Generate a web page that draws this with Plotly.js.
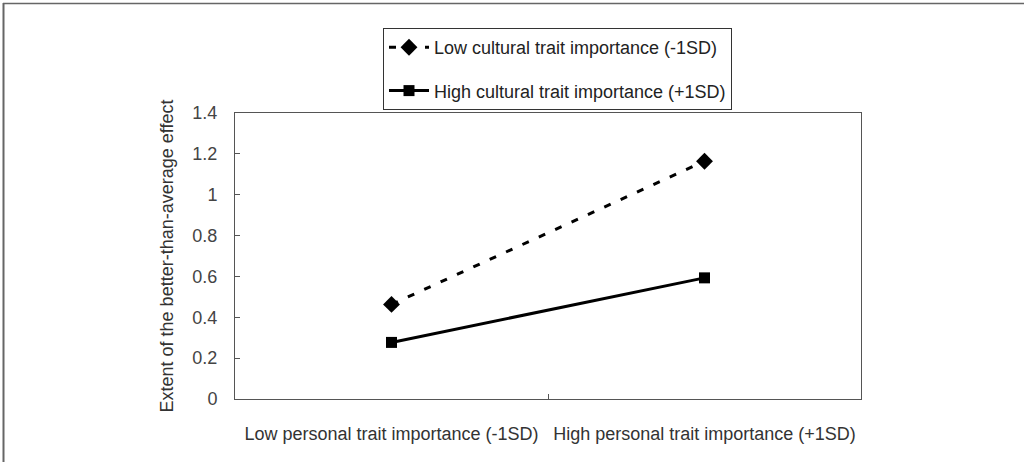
<!DOCTYPE html>
<html>
<head>
<meta charset="utf-8">
<script src="https://cdn.plot.ly/plotly-3.0.1.min.js"></script>
<style>html,body{margin:0;padding:0;background:#fff;}#chart{width:1024px;height:462px;}</style>
</head>
<body>
<div id="chart"></div>
<script>
var categories = ["Low personal trait importance (-1SD)", "High personal trait importance (+1SD)"];
var lowCultural = [0.463, 1.164];
var highCultural = [0.277, 0.593];
var seriesNames = ["Low cultural trait importance (-1SD)", "High cultural trait importance (+1SD)"];
var yTickVals = [0, 0.2, 0.4, 0.6, 0.8, 1, 1.2, 1.4];
var yTickText = ["0", "0.2", "0.4", "0.6", "0.8", "1", "1.2", "1.4"];

var font = "Liberation Sans, Arial, sans-serif";

var traces = [
  {
    x: categories, y: lowCultural, name: seriesNames[0], type: "scatter", mode: "lines+markers",
    legendgroup: "a",
    line: {color: "#000", width: 3, dash: "7px,11px"},
    marker: {symbol: "diamond", size: 13, color: "#000"}
  },
  {
    x: categories, y: highCultural, name: seriesNames[1], type: "scatter", mode: "lines+markers",
    legendgroup: "b",
    line: {color: "#000", width: 3},
    marker: {symbol: "square", size: 11, color: "#000"}
  }
];

var L = 235, R = 861, T = 113, B = 399, W = 1024, H = 462;
var pw = R - L, ph = B - T;
function px(x){ return (x - L) / pw; }
function py(y){ return (B - y) / ph; }

var layout = {
  width: W, height: H,
  margin: {l: L, r: W - R, t: T, b: H - B, pad: 0},
  paper_bgcolor: "#fff", plot_bgcolor: "#fff",
  font: {family: font, size: 18, color: "#333"},
  showlegend: true,
  legend: {
    x: px(383), y: py(28), xanchor: "left", yanchor: "top",
    bordercolor: "#333", borderwidth: 1, bgcolor: "#fff",
    font: {family: font, size: 18, color: "#222"},
    tracegroupgap: 17,
    itemwidth: 40
  },
  xaxis: {
    type: "category", range: [-0.5, 1.5],
    showline: true, linecolor: "#555", linewidth: 1, mirror: true,
    ticks: "inside", tickson: "boundaries", ticklen: 5, tickcolor: "#555",
    showgrid: false, zeroline: false,
    tickfont: {family: font, size: 18, color: "#333"},
    ticklabelstandoff: 18,
    automargin: false
  },
  yaxis: {
    range: [0, 1.4], tickvals: yTickVals, ticktext: yTickText,
    showline: true, linecolor: "#555", linewidth: 1, mirror: true,
    ticks: "inside", ticklen: 5, tickcolor: "#555",
    showgrid: false, zeroline: false,
    tickfont: {family: font, size: 18, color: "#444"},
    ticklabelstandoff: 13,
    title: {text: "Extent of the better-than-average effect", font: {family: font, size: 18, color: "#333"}, standoff: 14},
    automargin: false
  },
  shapes: [
    {type: "line", xref: "paper", yref: "paper", x0: px(3.5), x1: px(3.5), y0: py(3), y1: py(462), line: {color: "#666", width: 2}},
    {type: "line", xref: "paper", yref: "paper", x0: px(3), x1: px(1024), y0: py(3.5), y1: py(3.5), line: {color: "#666", width: 1.5}}
  ]
};

Plotly.newPlot("chart", traces, layout, {displayModeBar: false, staticPlot: true});
</script>
</body>
</html>
